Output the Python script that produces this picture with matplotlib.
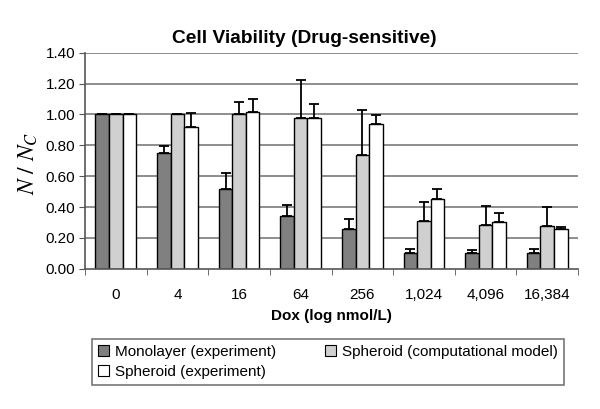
import numpy as np
import matplotlib.pyplot as plt

plt.rcParams['font.family'] = ['Liberation Sans', 'DejaVu Sans']
plt.rcParams['mathtext.fontset'] = 'stix'

doses = ['0', '4', '16', '64', '256', '1,024', '4,096', '16,384']

# mean values and upper error (height of the error bar above the bar)
mono = np.array([1.00, 0.75, 0.52, 0.34, 0.26, 0.105, 0.10, 0.10])
mono_err = np.array([0.0, 0.045, 0.10, 0.07, 0.06, 0.025, 0.02, 0.025])
model = np.array([1.00, 1.00, 1.00, 0.98, 0.74, 0.31, 0.285, 0.28])
model_err = np.array([0.0, 0.0, 0.08, 0.245, 0.29, 0.12, 0.12, 0.12])
spher = np.array([1.00, 0.92, 1.015, 0.98, 0.935, 0.455, 0.30, 0.255])
spher_err = np.array([0.0, 0.09, 0.085, 0.085, 0.06, 0.06, 0.06, 0.018])

fig = plt.figure(figsize=(6.0, 4.09), dpi=100)
ax = fig.add_axes([0.1417, 0.343, 0.8216, 0.528])

x = np.arange(len(doses))
w = 0.22
err_kw = dict(ecolor='black', elinewidth=1.3, capsize=3.5, capthick=1.3)

# grid lines behind bars
for yv in np.arange(0.2, 1.41, 0.2):
    ax.axhline(yv, color='#7a7a7a', lw=1.2, zorder=0)

b1 = ax.bar(x - w, mono, w, color='#808080', edgecolor='black', lw=1.0,
            yerr=[np.zeros_like(mono_err), mono_err], error_kw=err_kw,
            label='Monolayer (experiment)', zorder=2)
b2 = ax.bar(x, model, w, color='#d0d0d0', edgecolor='black', lw=1.0,
            yerr=[np.zeros_like(model_err), model_err], error_kw=err_kw,
            label='Spheroid (computational model)', zorder=2)
b3 = ax.bar(x + w, spher, w, color='white', edgecolor='black', lw=1.0,
            yerr=[np.zeros_like(spher_err), spher_err], error_kw=err_kw,
            label='Spheroid (experiment)', zorder=2)

ax.set_xlim(-0.5, len(doses) - 0.5)
ax.set_ylim(0, 1.4)
ax.set_yticks(np.arange(0, 1.41, 0.2))
ax.set_yticklabels(['%.2f' % v for v in np.arange(0, 1.41, 0.2)], fontsize=11)
ax.set_xticks(x)
ax.set_xticklabels(doses, fontsize=11)
ax.set_xticks(np.arange(-0.5, len(doses), 1), minor=True)
ax.tick_params(axis='x', which='major', length=0, pad=14)
ax.tick_params(axis='x', which='minor', length=4, color='#555555')
ax.tick_params(axis='y', length=4, color='#555555', pad=3)

for s in ['top', 'right']:
    ax.spines[s].set_visible(False)
ax.spines['left'].set_color('#555555')
ax.spines['bottom'].set_color('#555555')
ax.spines['left'].set_linewidth(1.2)
ax.spines['bottom'].set_linewidth(1.2)

ax.set_xlabel('Dox (log nmol/L)', fontsize=11, fontweight='bold', labelpad=5)
fig.text(0.047, 0.60, r'$N\ /\ N_C$', rotation=90, fontsize=17,
         ha='center', va='center')
fig.text(0.508, 0.905, 'Cell Viability (Drug-sensitive)', fontsize=13.8,
         fontweight='bold', ha='center', va='center')

# column-first filling, so order handles to get mono/model on the first row
leg = ax.legend([b1, b3, b2],
                ['Monolayer (experiment)', 'Spheroid (experiment)',
                 'Spheroid (computational model)'],
                loc='upper left', bbox_to_anchor=(0.0142, -0.52, 0.957, 0.195),
                mode='expand', ncol=2, fontsize=11, frameon=True,
                fancybox=False, edgecolor='#555555', handlelength=0.7,
                handleheight=0.7, handletextpad=0.4, borderpad=0.4,
                labelspacing=0.4, columnspacing=1.0, borderaxespad=0)
leg.get_frame().set_linewidth(1.2)
for p in leg.get_patches():
    p.set_linewidth(0.8)

fig.savefig('out.png', dpi=100)
